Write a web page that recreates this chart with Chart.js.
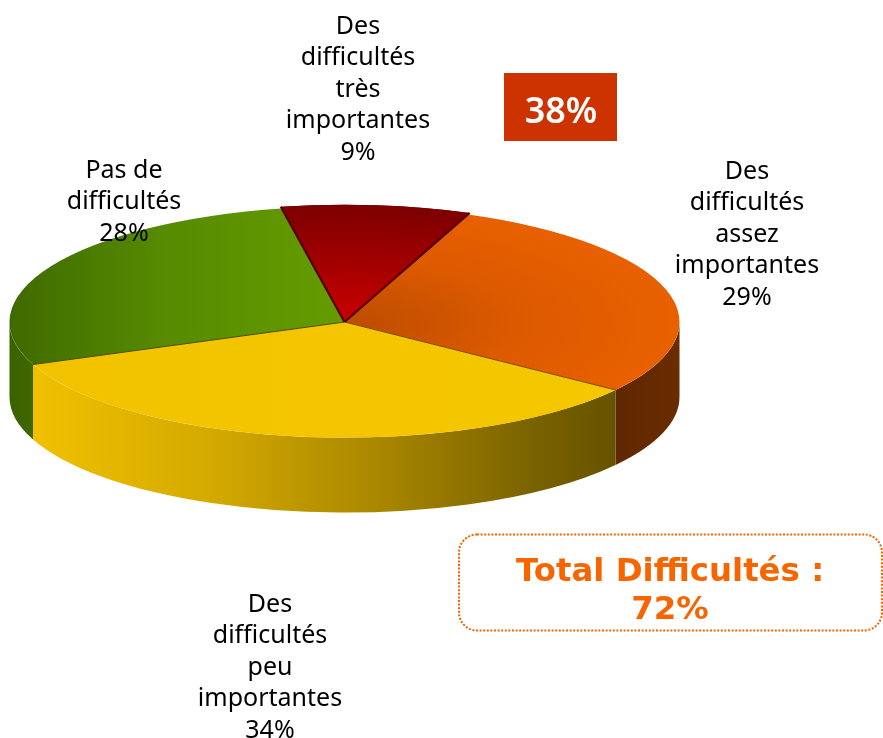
<!DOCTYPE html>
<html lang="fr"><head><meta charset="utf-8">
<style>html,body{margin:0;padding:0;background:#fff}canvas{display:block}</style>
<script src="https://cdn.jsdelivr.net/npm/chart.js@4"></script>
</head><body><canvas id="c" width="883" height="738"></canvas>
<script>
const categories = [
  ["Des","difficultés","très","importantes"],
  ["Des","difficultés","assez","importantes"],
  ["Des","difficultés","peu","importantes"],
  ["Pas de","difficultés"]
];
const values = [9, 29, 34, 28];
const badgeText = "38%";
const totalLines = ["Total Difficultés :", "72%"];

const CY = 322, TILT = 0.345, DEPTH = 75;
const labelPos = [[358,33.5],[747,178.5],[270,611.5],[124,177.5]];
const LINE = 31.6;
const sideStops = [
  [[0,'#7a3200'],[1,'#5f2700']],
  [[0,'#5f2700'],[1,'#6a2c00']],
  [[0,'#f0c000'],[0.3,'#d5aa00'],[0.6,'#a88600'],[0.85,'#7b6300'],[1,'#665300']],
  [[0,'#3a6200'],[1,'#3f6800']]
];

function topFill(ctx, i, a){
  const cx=(a.left+a.right)/2, cy=(a.top+a.bottom)/2, R=(a.right-a.left)/2, c=ctx;
  if(i===0){const g=c.createRadialGradient(cx,cy,0,cx,cy,R*1.015);g.addColorStop(0,'#c90000');g.addColorStop(.55,'#a00000');g.addColorStop(1,'#7c0000');return g;}
  if(i===1){const g=c.createRadialGradient(cx,cy,0,cx,cy,R);g.addColorStop(0,'#bc4d00');g.addColorStop(.55,'#de5a00');g.addColorStop(1,'#e86000');return g;}
  if(i===2){const g=c.createLinearGradient(a.left,0,a.right,0);g.addColorStop(0,'#f2c200');g.addColorStop(1,'#f6c800');return g;}
  const g=c.createLinearGradient(a.left,0,cx,0);g.addColorStop(0,'#3f6a00');g.addColorStop(.45,'#568a00');g.addColorStop(1,'#659c00');return g;
}

const pie3d = {
  id:'pie3d',
  afterDatasetsUpdate(chart){
    const m=chart.getDatasetMeta(0);
    m.data[0].outerRadius = m.data[0].outerRadius*1.015;
  },
  beforeDatasetsDraw(chart){
    const ctx=chart.ctx, arcs=chart.getDatasetMeta(0).data;
    arcs.forEach((el,i)=>{
      if(i===0) return;
      const s=Math.max(el.startAngle,0), e=Math.min(el.endAngle,Math.PI);
      if(e<=s) return;
      const rx=el.outerRadius, ry=rx*TILT, x=el.x;
      const x0=x+rx*Math.cos(e), x1=x+rx*Math.cos(s);
      const g=ctx.createLinearGradient(x0,0,x1,0);
      sideStops[i].forEach(p=>g.addColorStop(p[0],p[1]));
      ctx.save();
      ctx.beginPath();
      ctx.ellipse(x,CY,rx,ry,0,s,e,false);
      ctx.ellipse(x,CY+DEPTH,rx,ry,0,e,s,true);
      ctx.closePath();
      ctx.fillStyle=g; ctx.fill();
      ctx.restore();
    });
    ctx.save();
    const cy=arcs[0].y;
    ctx.translate(0,CY); ctx.scale(1,TILT); ctx.translate(0,-cy);
  },
  afterDatasetsDraw(chart){
    const ctx=chart.ctx, arcs=chart.getDatasetMeta(0).data;
    arcs[0].draw(ctx);
    ctx.restore();
    const pt=(el,ang)=>[el.x+el.outerRadius*Math.cos(ang), CY+el.outerRadius*TILT*Math.sin(ang)];
    const edge=(el,ang,col,w)=>{const p=pt(el,ang);ctx.beginPath();ctx.moveTo(el.x,CY);ctx.lineTo(p[0],p[1]);ctx.strokeStyle=col;ctx.lineWidth=w;ctx.stroke();};
    edge(arcs[2],arcs[2].startAngle,'#7a4a00',1);
    edge(arcs[2],arcs[2].endAngle,'#4a4a00',1);
    edge(arcs[0],arcs[0].startAngle,'#560000',2.2);
    edge(arcs[0],arcs[0].endAngle,'#560000',2.2);

    ctx.save();
    ctx.textAlign='center'; ctx.textBaseline='alphabetic'; ctx.fillStyle='#000';
    ctx.font='25px "Noto Sans"';
    categories.forEach((lines,i)=>{
      const [lx,ly]=labelPos[i];
      const all=lines.concat([values[i]+'%']);
      all.forEach((t,k)=>ctx.fillText(t,lx,ly+k*LINE));
    });
    ctx.fillStyle='#cc3300'; ctx.fillRect(504,73,113,68);
    ctx.fillStyle='#fff'; ctx.font='600 36px "Noto Sans"';
    ctx.fillText(badgeText,561,123);
    ctx.beginPath(); ctx.roundRect(459,534.5,423,96,18);
    ctx.strokeStyle='#f26500'; ctx.lineWidth=2; ctx.setLineDash([2,1.6]); ctx.stroke(); ctx.setLineDash([]);
    ctx.fillStyle='#f76500'; ctx.font='bold 32.4px "DejaVu Sans"';
    ctx.fillText(totalLines[0],670,581);
    ctx.fillText(totalLines[1],670,619);
    ctx.restore();
  }
};

new Chart(document.getElementById('c'),{
  type:'pie',
  data:{labels:categories.map(l=>l.join(' ')),datasets:[{data:values,borderWidth:0,
    backgroundColor(c){const a=c.chart.chartArea; if(!a) return '#888'; return topFill(c.chart.ctx,c.dataIndex,a);}}]},
  options:{responsive:false,animation:false,events:[],rotation:-10.8,
    layout:{padding:{left:9.5,right:203.5,top:0,bottom:0}},
    plugins:{legend:{display:false},tooltip:{enabled:false},title:{display:false}}},
  plugins:[pie3d]
});
</script></body></html>
